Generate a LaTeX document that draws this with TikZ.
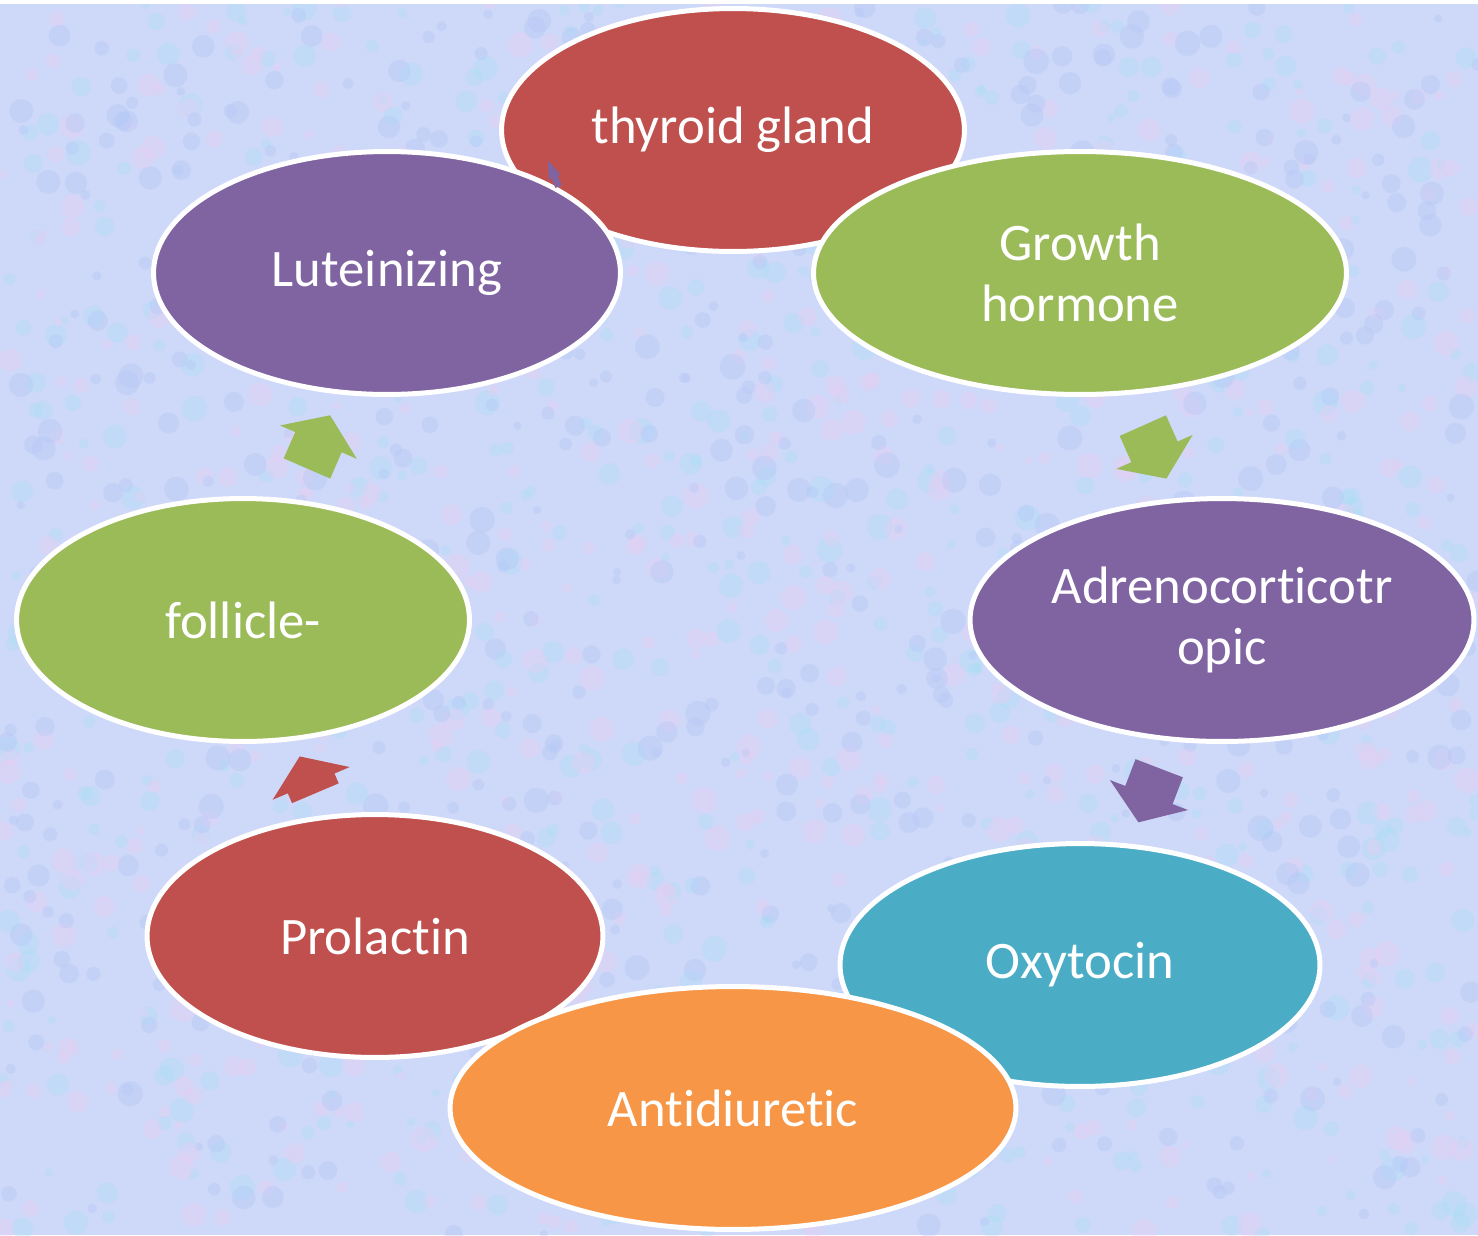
\documentclass[tikz,border=0pt]{standalone}
\usepackage{fontspec}
\usepackage{xcolor}
\usepackage{tikz}
\usetikzlibrary{shapes.geometric, shapes.arrows}
\newfontfamily\hormonefont[Ligatures=NoCommon]{Carlito}

\definecolor{cyred}{RGB}{192,80,77}
\definecolor{cygreen}{RGB}{155,187,89}
\definecolor{cypurple}{RGB}{128,100,162}
\definecolor{cyteal}{RGB}{75,172,198}
\definecolor{cyorange}{RGB}{247,150,70}
\definecolor{bgblue}{RGB}{206,216,248}
\definecolor{bgcyan}{RGB}{164,224,246}
\definecolor{bgpink}{RGB}{238,204,242}
\definecolor{bglav}{RGB}{174,196,246}

\tikzset{
  hormone/.style={ellipse, draw=white, line width=0.1cm, inner sep=0pt,
    minimum height=4.86cm, text=white, align=center,
    font=\hormonefont\fontsize{30}{35}\selectfont},
  cyclearrow/.style={single arrow, inner xsep=0pt, inner ysep=0.5cm,
    single arrow head extend=0.33cm, single arrow tip angle=110,
    minimum height=1.16cm, draw=none}
}

\begin{document}
\begin{tikzpicture}[x=0.02cm, y=-0.02cm]
    \useasboundingbox (0,0) rectangle (1478,1235);
    \clip (0,0) rectangle (1478,1235);
    \fill[bgblue] (0,0) rectangle (1478,1235);
    \pgfmathsetseed{11}
    \foreach \col in {bgcyan, bgpink, bglav} {
        \foreach \i in {1,...,650} {
            \pgfmathsetmacro\px{rnd*1478}
            \pgfmathsetmacro\py{rnd*1235}
            \pgfmathsetmacro\pr{4+rnd*9}
            \fill[\col, opacity=0.3] (\px,\py) circle (\pr);
        }
    }
    \fill[white] (0,0) rectangle (1478,4);

    \node (a2) [cyclearrow, fill=cygreen, rotate=-66] at (1151,444) {};
    \node (a3) [cyclearrow, fill=cypurple, rotate=-111] at (1152,787) {};
    \node (a6) [cyclearrow, fill=cyred, rotate=113, minimum height=0.8cm] at (311,783) {};
    \node (a7) [cyclearrow, fill=cygreen, rotate=66.5] at (315,450) {};

    \node (tg) [hormone, fill=cyred, minimum width=9.26cm] at (733,130) {thyroid gland};
    \node (gh) [hormone, fill=cygreen, minimum width=10.66cm] at (1080,273) {Growth\\hormone};
    \node (acth) [hormone, fill=cypurple, minimum width=10.08cm] at (1222,620) {Adrenocorticotr\\opic};
    \node (oxy) [hormone, fill=cyteal, minimum width=9.6cm] at (1080,965) {Oxytocin};
    \node (prl) [hormone, fill=cyred, minimum width=9.12cm] at (375,936) {Prolactin};
    \node (adh) [hormone, fill=cyorange, minimum width=11.32cm] at (733,1108) {Antidiuretic};
    \node (fsh) [hormone, fill=cygreen, minimum width=9.06cm] at (243,620) {follicle-};
    \node (lh) [hormone, fill=cypurple, minimum width=9.34cm] at (387,273) {Luteinizing};

    \node (a8) [cyclearrow, fill=cypurple, rotate=112, inner ysep=0.06cm,
        single arrow head extend=0.06cm, single arrow tip angle=40,
        minimum height=0.56cm] at (555,178) {};
\end{tikzpicture}
\end{document}
